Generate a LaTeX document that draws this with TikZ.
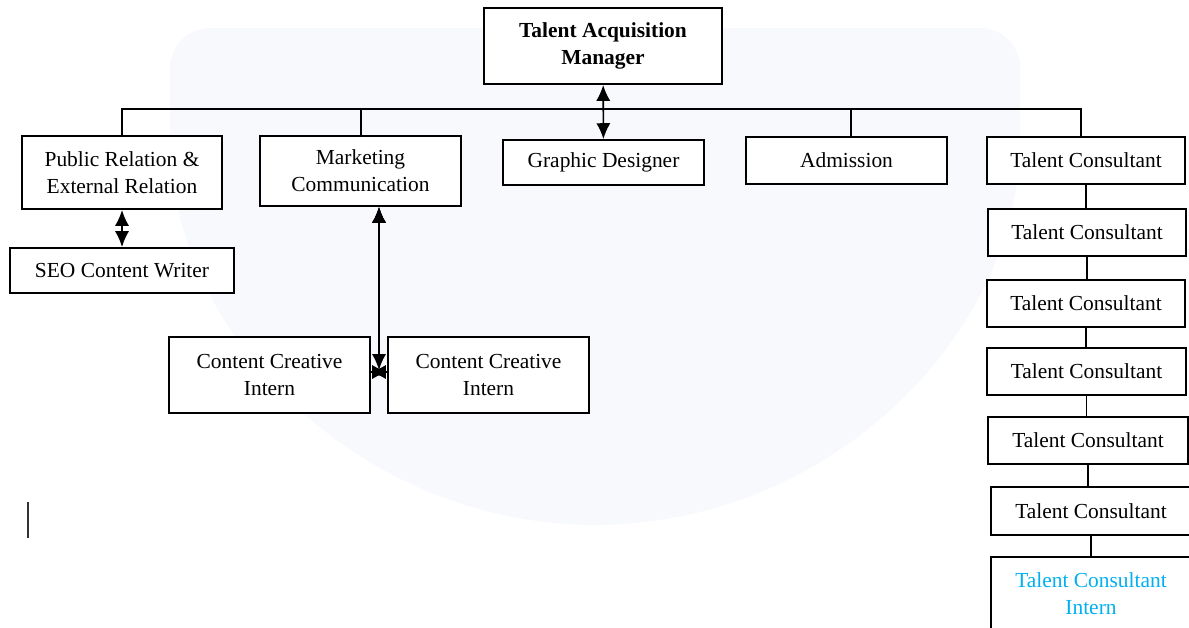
\documentclass[tikz,border=0pt]{standalone}
\usepackage{fontspec}
\setmainfont{Liberation Serif}
\usetikzlibrary{arrows.meta}

\definecolor{internblue}{RGB}{0,176,240}
\definecolor{watermark}{RGB}{248,249,252}

\tikzset{
  box/.style={shape=rectangle, draw=black, fill=white, line width=1.1pt,
    align=center, inner sep=0pt, font=\fontsize{12.2}{15.2}\selectfont},
  headbox/.style={box, font=\bfseries\fontsize{12.2}{15.4}\selectfont},
  internbox/.style={box, text=internblue},
  link/.style={line width=0.9pt},
  twoway/.style={link, {Latex[length=9pt,width=8pt]}-{Latex[length=9pt,width=8pt]}},
  oneway/.style={link, -{Latex[length=9pt,width=8pt]}},
}

\begin{document}
\begin{tikzpicture}[x=0.02cm, y=-0.02cm]
\useasboundingbox (0,0) rectangle (1189,627);
\clip (0,0) rectangle (1189,627);

% faint logo behind the chart
\fill[watermark, rounded corners=0.8cm]
  (1020,100) arc[start angle=0, end angle=-180, radius=8.5cm]
  -- (170,28) -- (1020,28) -- cycle;

% top
\node[headbox, minimum width=4.76cm, minimum height=1.52cm] at (603, 46)
(tam) {Talent Acquisition\\Manager};

% second row
\node[box, minimum width=4cm, minimum height=1.46cm] at (122, 172.5)
(pr) {Public Relation \&\\External Relation};

\node[box, minimum width=4.02cm, minimum height=1.4cm] at (360.5, 171)
(mc) {Marketing\\Communication};

\node[box, minimum width=4.02cm, minimum height=0.9cm] at (603.5, 162.5)
(gd) {Graphic Designer};

\node[box, minimum width=4.02cm, minimum height=0.94cm] at (846.5, 160.5)
(adm) {Admission};

\node[box, minimum width=3.96cm, minimum height=0.94cm] at (1086, 160.5)
(tc1) {Talent Consultant};

% under public relation and marketing
\node[box, minimum width=4.48cm, minimum height=0.9cm] at (122, 270.5)
(seo) {SEO Content Writer};

\node[box, minimum width=4.02cm, minimum height=1.52cm] at (269.5, 375)
(cci1) {Content Creative\\Intern};
\node[box, minimum width=4.02cm, minimum height=1.52cm] at (488.5, 375)
(cci2) {Content Creative\\Intern};

% talent consultant column
\node[box, minimum width=3.96cm, minimum height=0.94cm] at (1087, 232.5)
(tc2) {Talent Consultant};
\node[box, minimum width=3.96cm, minimum height=0.94cm] at (1086, 303.5)
(tc3) {Talent Consultant};
\node[box, minimum width=3.98cm, minimum height=0.94cm] at (1086.5, 371.5)
(tc4) {Talent Consultant};
\node[box, minimum width=4cm, minimum height=0.94cm] at (1088, 440.5)
(tc5) {Talent Consultant};
\node[box, minimum width=4cm, minimum height=0.96cm] at (1091, 511)
(tc6) {Talent Consultant};
\node[internbox, minimum width=4cm, minimum height=1.48cm] at (1091, 594)
(tc7) {Talent Consultant\\Intern};

% bus
\coordinate (bus) at (603, 109);
\coordinate (cmid) at (379, 370);
\coordinate (cl) at (370, 372);
\coordinate (cr) at (388, 372);

\draw[link] (pr.north) |- (bus) -| ([xshift=-0.1cm]tc1.north);
\draw[link]
  ([xshift=0.01cm]mc.north) edge ([xshift=0.01cm]mc.north |- bus)
  ([xshift=0.09cm]adm.north) edge ([xshift=0.09cm]adm.north |- bus)
;

\draw[twoway]
  (tam) edge (gd)
  (pr)  edge (seo)
  (mc.south -| cmid) edge (cmid)
;
\draw[oneway] (cr) -- (cl);
\draw[oneway] (cl) -- (cr);

\foreach \a/\b in {tc1/tc2, tc2/tc3, tc3/tc4, tc4/tc5, tc5/tc6, tc6/tc7}
  \draw[link] (\a.south) -- (\a.south |- \b.north);

% stray mark at the left
\draw[line width=0.8pt, black!80] (28, 502) -- (28, 538);
\end{tikzpicture}
\end{document}
